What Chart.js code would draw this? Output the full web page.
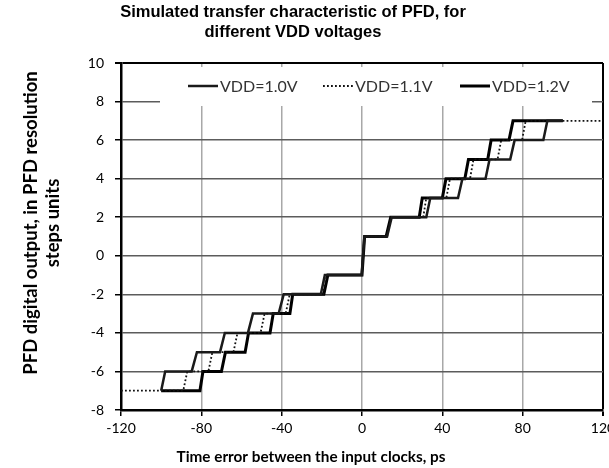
<!DOCTYPE html>
<html>
<head>
<meta charset="utf-8">
<script src="https://cdn.jsdelivr.net/npm/chart.js@4.4.1/dist/chart.umd.min.js"></script>
<style>
  html, body { margin: 0; background: #fff; }
</style>
</head>
<body>
<canvas id="chart" width="609" height="468"></canvas>
<script>
// --- data ---
const xTicks = [-120, -80, -40, 0, 40, 80, 120]
const yTicks = [-8, -6, -4, -2, 0, 2, 4, 6, 8, 10]
const levels = [-7, -6, -5, -4, -3, -2, -1, 1, 2, 3, 4, 5, 6, 7]

// each step: where the rise to the next level starts and ends (ps)
const vdd10Start = [-100, -84.8, -70.7, -56.8, -41.5, -20.5, -0.2, 12.5, 32, 47.8, 61.5, 73.8, 90.3]
const vdd10End = [-98, -82.2, -68.3, -54.3, -39, -18.5, 1.2, 14.8, 34, 50, 63.5, 76, 92.3]
const vdd10Range = [-100, 100]

const vdd11Start = [-89, -76.5, -64, -50.5, -38, -19.5, -0.1, 12.5, 30.5, 42, 53.8, 67.5, 79.7]
const vdd11End = [-87, -74.5, -62, -48.5, -36, -17.5, 1.2, 14.5, 32, 43.8, 55.5, 69.3, 81.5]
const vdd11Range = [-120, 120]

const vdd12Start = [-80.7, -70, -58.2, -45.8, -35.9, -19, 0, 12, 28.5, 40, 51.2, 62.6, 73.2]
const vdd12End = [-79.2, -68, -56.5, -44.2, -34.5, -17, 1.3, 14.3, 30, 41.8, 53, 64.3, 75.2]
const vdd12Range = [-100, 100]

function staircase(range, starts, ends) {
  const pts = [{ x: range[0], y: levels[0] }]
  starts.forEach((s, i) => {
    pts.push({ x: s, y: levels[i] })
    pts.push({ x: ends[i], y: levels[i + 1] })
  })
  pts.push({ x: range[1], y: levels[levels.length - 1] })
  return pts
}

const legendX = [188, 323, 460] // line sample start for each legend entry

// --- plugin: title, axis titles, in-plot legend box ---
const decor = {
  id: 'decor',
  beforeDatasetsDraw(chart) {
    const { ctx } = chart
    ctx.save()
    ctx.fillStyle = '#fff'
    ctx.fillRect(160, 67, 432, 39)
    ctx.font = '16px Lato'
    ctx.textBaseline = 'middle'
    chart.data.datasets.forEach((ds, i) => {
      const x0 = legendX[i]
      ctx.beginPath()
      ctx.strokeStyle = ds.borderColor
      ctx.lineWidth = ds.borderWidth
      ctx.setLineDash(ds.borderDash || [])
      ctx.moveTo(x0, 86)
      ctx.lineTo(x0 + 30, 86)
      ctx.stroke()
      ctx.setLineDash([])
      ctx.fillStyle = '#333'
      ctx.fillText(ds.label, x0 + 32, 87)
    })
    ctx.restore()
  },
  afterDraw(chart) {
    const { ctx } = chart
    ctx.save()
    ctx.fillStyle = '#000'
    ctx.textAlign = 'center'
    ctx.textBaseline = 'alphabetic'
    ctx.font = 'bold 16.5px "Liberation Sans"'
    ctx.fillText('Simulated transfer characteristic of PFD, for', 293, 17)
    ctx.fillText('different VDD voltages', 293, 37)

    ctx.font = 'bold 15.3px Lato'
    ctx.fillText('Time error between the input clocks, ps', 311, 462)

    ctx.translate(0, 223)
    ctx.rotate(-Math.PI / 2)
    ctx.textBaseline = 'middle'
    ctx.font = 'bold 18.5px Lato'
    ctx.fillText('PFD digital output, in PFD resolution', 0, 31)
    ctx.fillText('steps units', 0, 53)
    ctx.restore()
  },
}

new Chart(document.getElementById('chart'), {
  type: 'scatter',
  data: {
    datasets: [
      {
        label: 'VDD=1.0V',
        data: staircase(vdd10Range, vdd10Start, vdd10End),
        borderColor: '#1a1a1a',
        borderWidth: 2.5,
      },
      {
        label: 'VDD=1.1V',
        data: staircase(vdd11Range, vdd11Start, vdd11End),
        borderColor: '#111',
        borderWidth: 1.8,
        borderDash: [1.8, 2.2],
      },
      {
        label: 'VDD=1.2V',
        data: staircase(vdd12Range, vdd12Start, vdd12End),
        borderColor: '#000',
        borderWidth: 3,
      },
    ],
  },
  options: {
    responsive: false,
    animation: false,
    devicePixelRatio: 1,
    showLine: true,
    elements: { point: { radius: 0, hoverRadius: 0 }, line: { tension: 0 } },
    layout: { padding: { top: 63, right: 6, left: 0, bottom: 0 } },
    plugins: { legend: { display: false }, title: { display: false }, tooltip: { enabled: false } },
    scales: {
      x: {
        type: 'linear',
        min: xTicks[0],
        max: xTicks[xTicks.length - 1],
        afterBuildTicks: (s) => { s.ticks = xTicks.map((v) => ({ value: v })) },
        afterFit: (s) => { s.height = 58; s.paddingLeft = 0; s.paddingRight = 0 },
        ticks: { color: '#000', font: { family: 'Lato', size: 14 }, padding: 4, maxRotation: 0 },
        grid: {
          color: (c) => (c.tick && c.tick.value === 120 ? '#000' : '#a8a8a8'),
          lineWidth: (c) => (c.tick && c.tick.value === 120 ? 2 : 1.5),
          tickColor: '#000',
          tickLength: 6,
        },
        border: { color: '#000', width: 2.5 },
      },
      y: {
        min: yTicks[0],
        max: yTicks[yTicks.length - 1],
        afterBuildTicks: (s) => { s.ticks = yTicks.map((v) => ({ value: v })) },
        afterFit: (s) => { s.width = 121; s.paddingTop = 0; s.paddingBottom = 0 },
        ticks: { color: '#000', font: { family: 'Lato', size: 14 }, padding: 11 },
        grid: {
          color: (c) => (c.tick && c.tick.value === 10 ? '#000' : '#5c5c5c'),
          lineWidth: (c) => (c.tick && c.tick.value === 10 ? 2 : 1.5),
          tickColor: '#000',
          tickLength: 6,
        },
        border: { color: '#000', width: 2.5 },
      },
    },
  },
  plugins: [decor],
})
</script>
</body>
</html>
